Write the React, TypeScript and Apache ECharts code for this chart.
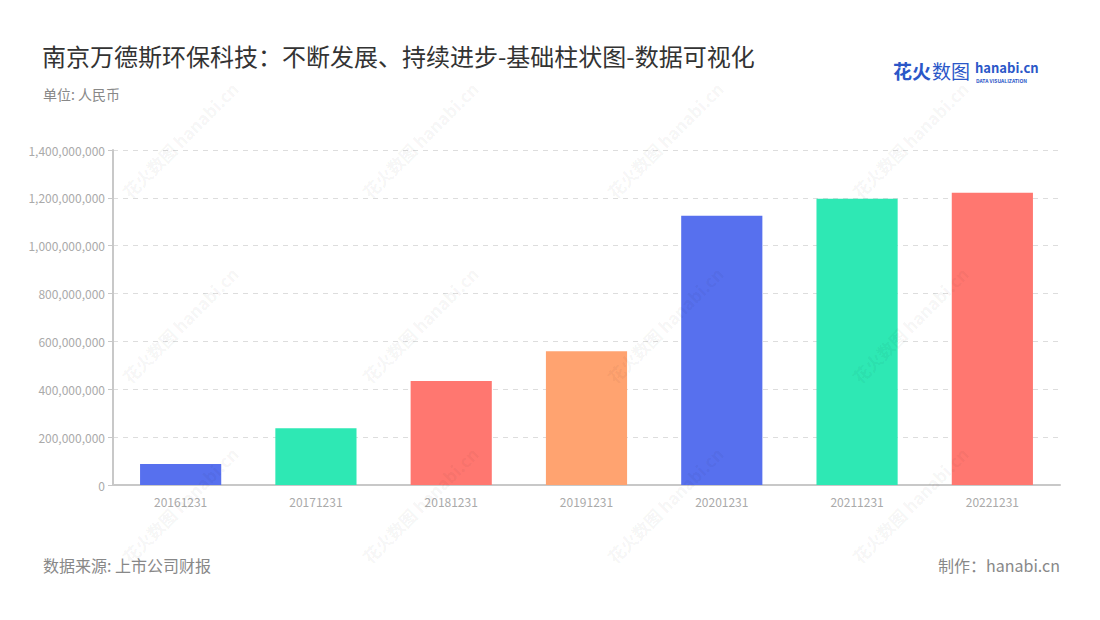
import React, { useEffect, useRef } from "react";
import * as echarts from "echarts";

const categories = ["20161231", "20171231", "20181231", "20191231", "20201231", "20211231", "20221231"];
const values = [88000000, 237000000, 435000000, 559000000, 1125000000, 1196000000, 1221000000];
const barColors = ["#5770EE", "#2EE8B4", "#FF7770", "#FFA370", "#5770EE", "#2EE8B4", "#FF7770"];
const yTicks = { min: 0, max: 1400000000, interval: 200000000 };

const titleText = "南京万德斯环保科技：不断发展、持续进步-基础柱状图-数据可视化";
const unitText = "单位: 人民币";
const sourceText = "数据来源: 上市公司财报";
const makerText = "制作：hanabi.cn";

const wmCols = [180, 420, 665, 910];
const wmRows = [140, 325, 505];

export default function App() {
  const ref = useRef<HTMLDivElement>(null);
  useEffect(() => {
    if (!ref.current) return;
    const chart = echarts.init(ref.current, undefined, { renderer: "svg" });
    const font = "'Noto Sans CJK SC', 'Noto Sans', sans-serif";
    const watermarks: any[] = [];
    wmRows.forEach((y) =>
      wmCols.forEach((x) => {
        watermarks.push({
          type: "text",
          x,
          y,
          rotation: Math.PI / 4,
          z: 100,
          style: {
            text: "花火数图 hanabi.cn",
            fill: "rgba(0,0,0,0.055)",
            font: `bold 17px ${font}`,
            align: "center",
            verticalAlign: "middle",
          },
        });
      })
    );
    chart.setOption({
      animation: false,
      textStyle: { fontFamily: font },
      title: [
        {
          text: titleText,
          left: 37,
          top: 38,
          textStyle: { fontSize: 24, fontWeight: "normal", color: "#333", fontFamily: font },
        },
        {
          text: unitText,
          left: 38,
          top: 82,
          textStyle: { fontSize: 14, fontWeight: "normal", color: "#888", fontFamily: font },
        },
        {
          text: sourceText,
          left: 38,
          top: 552,
          textStyle: { fontSize: 16, fontWeight: "normal", color: "#888", fontFamily: font },
        },
        {
          text: makerText,
          right: 35,
          top: 552,
          textStyle: { fontSize: 16, fontWeight: "normal", color: "#888", fontFamily: font },
        },
      ],
      graphic: [
        {
          type: "text",
          left: 893,
          top: 61,
          style: { text: "花火", fill: "#2B57C8", font: `bold 19px ${font}` },
        },
        {
          type: "text",
          left: 932,
          top: 61,
          style: { text: "数图", fill: "#2B57C8", font: `19px ${font}` },
        },
        {
          type: "text",
          left: 975,
          top: 61,
          style: { text: "hanabi.cn", fill: "#2B57C8", font: `bold 13px ${font}` },
        },
        {
          type: "text",
          left: 976,
          top: 78,
          style: { text: "DATA VISUALIZATION", fill: "#2B57C8", font: `bold 5px ${font}` },
        },
        ...watermarks,
      ],
      grid: { left: 113, right: 40, top: 150, bottom: 135 },
      xAxis: {
        type: "category",
        data: categories,
        axisLine: { lineStyle: { color: "#C8C8C8", width: 2 } },
        axisTick: { alignWithLabel: true, lineStyle: { color: "#999" } },
        axisLabel: { color: "#aaa", fontSize: 12, margin: 10 },
      },
      yAxis: {
        type: "value",
        min: yTicks.min,
        max: yTicks.max,
        interval: yTicks.interval,
        axisLine: { show: true, lineStyle: { color: "#C8C8C8", width: 2 } },
        axisTick: { show: true, lineStyle: { color: "#C8C8C8" } },
        axisLabel: { color: "#aaa", fontSize: 12 },
        splitLine: { lineStyle: { color: "#ddd", type: [5, 5] } },
      },
      series: [
        {
          type: "bar",
          barWidth: "60%",
          data: values.map((v, i) => ({ value: v, itemStyle: { color: barColors[i] } })),
        },
      ],
    });
    return () => chart.dispose();
  }, []);
  return <div ref={ref} style={{ width: 1100, height: 620, margin: -8 }} />;
}
